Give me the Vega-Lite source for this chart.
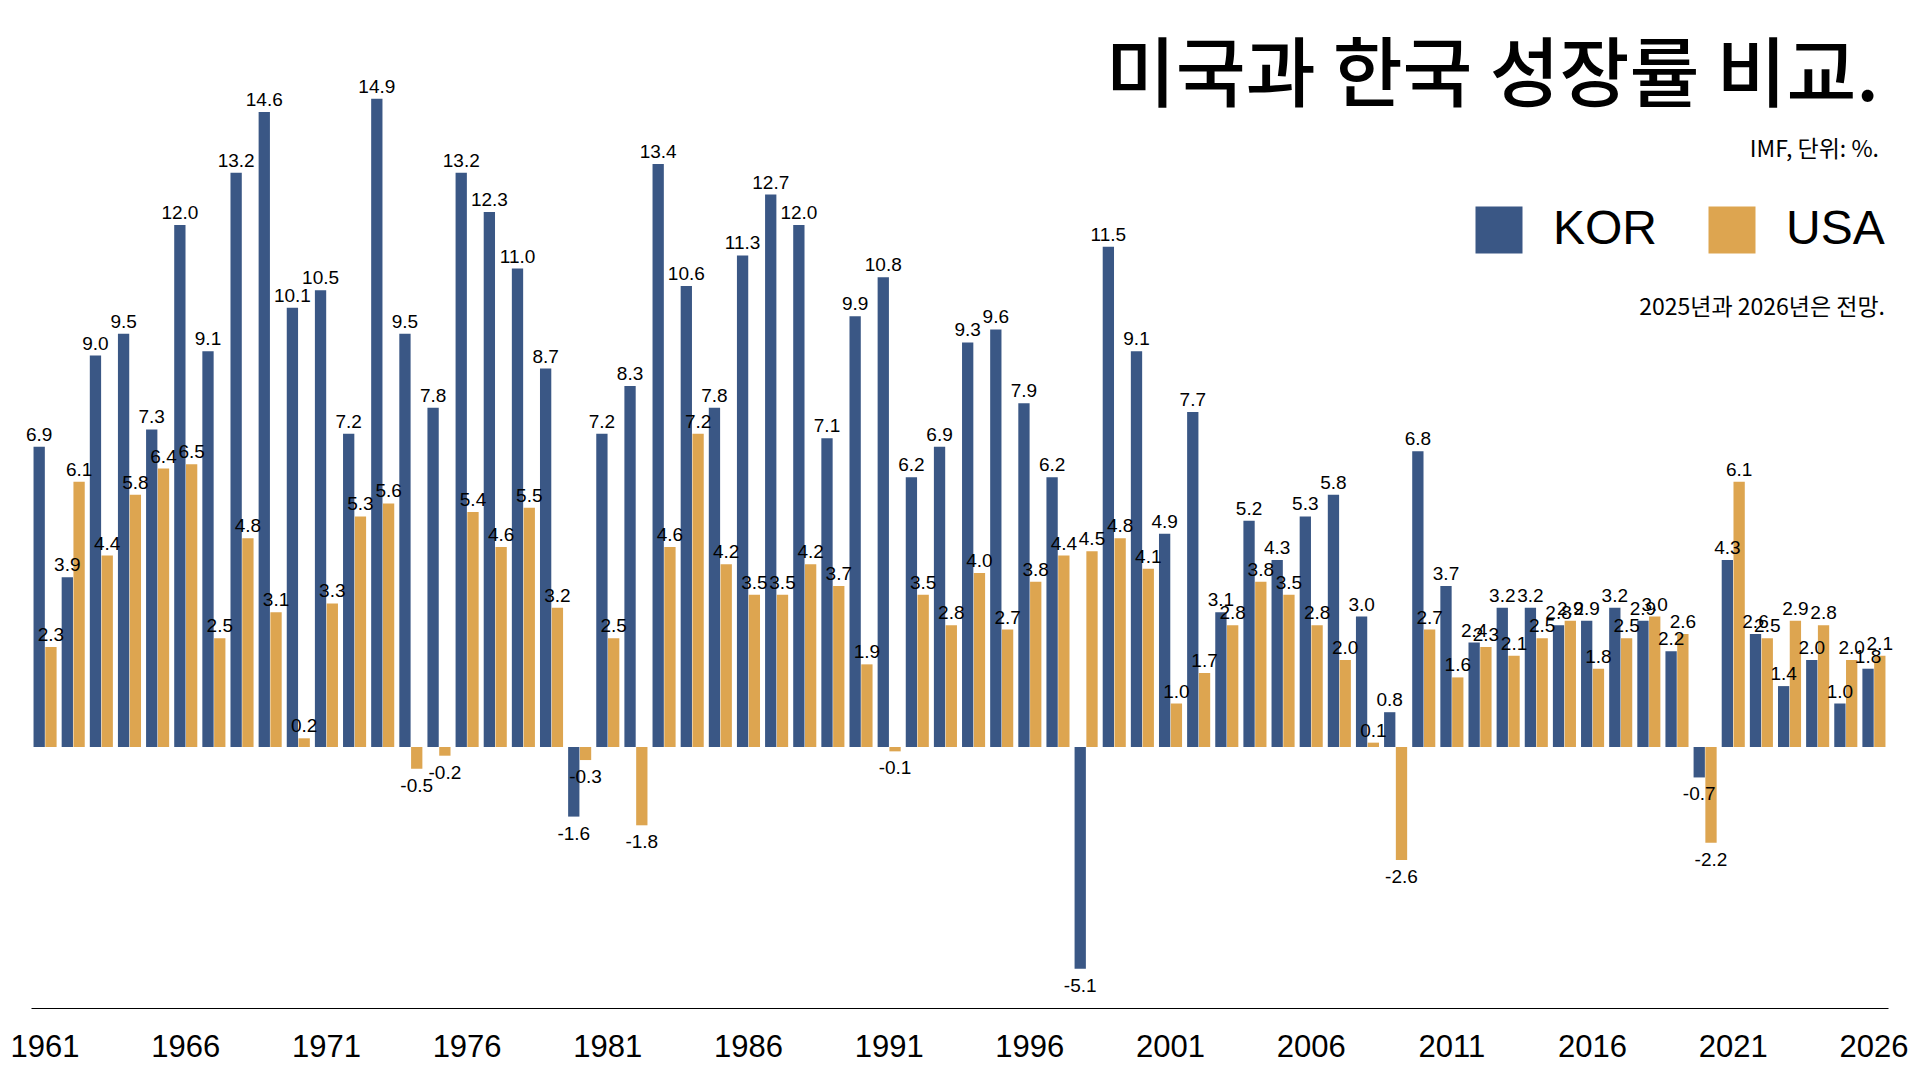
{
  "$schema": "https://vega.github.io/schema/vega-lite/v6.json",
  "description": "KOR vs USA real GDP growth, 1961-2026 (IMF)",
  "autosize": "none",
  "width": 1857,
  "height": 957,
  "padding": {"left": 31, "top": 51, "right": 32, "bottom": 72},
  "background": "white",
  "title": {
    "text": "미국과 한국 성장률 비교.",
    "subtitle": "IMF, 단위: %.",
    "anchor": "end",
    "frame": "group",
    "offset": -112,
    "dx": -9,
    "font": "Noto Sans CJK KR",
    "fontSize": 76,
    "fontWeight": 500,
    "color": "#000000",
    "subtitleFont": "Noto Sans CJK KR",
    "subtitleFontSize": 23,
    "subtitleColor": "#000000",
    "subtitlePadding": 22
  },
  "data": {
    "values": [
      {"year": 1961, "country": "KOR", "growth": 6.9}, {"year": 1961, "country": "USA", "growth": 2.3},
      {"year": 1962, "country": "KOR", "growth": 3.9}, {"year": 1962, "country": "USA", "growth": 6.1},
      {"year": 1963, "country": "KOR", "growth": 9.0}, {"year": 1963, "country": "USA", "growth": 4.4},
      {"year": 1964, "country": "KOR", "growth": 9.5}, {"year": 1964, "country": "USA", "growth": 5.8},
      {"year": 1965, "country": "KOR", "growth": 7.3}, {"year": 1965, "country": "USA", "growth": 6.4},
      {"year": 1966, "country": "KOR", "growth": 12.0}, {"year": 1966, "country": "USA", "growth": 6.5},
      {"year": 1967, "country": "KOR", "growth": 9.1}, {"year": 1967, "country": "USA", "growth": 2.5},
      {"year": 1968, "country": "KOR", "growth": 13.2}, {"year": 1968, "country": "USA", "growth": 4.8},
      {"year": 1969, "country": "KOR", "growth": 14.6}, {"year": 1969, "country": "USA", "growth": 3.1},
      {"year": 1970, "country": "KOR", "growth": 10.1}, {"year": 1970, "country": "USA", "growth": 0.2},
      {"year": 1971, "country": "KOR", "growth": 10.5}, {"year": 1971, "country": "USA", "growth": 3.3},
      {"year": 1972, "country": "KOR", "growth": 7.2}, {"year": 1972, "country": "USA", "growth": 5.3},
      {"year": 1973, "country": "KOR", "growth": 14.9}, {"year": 1973, "country": "USA", "growth": 5.6},
      {"year": 1974, "country": "KOR", "growth": 9.5}, {"year": 1974, "country": "USA", "growth": -0.5},
      {"year": 1975, "country": "KOR", "growth": 7.8}, {"year": 1975, "country": "USA", "growth": -0.2},
      {"year": 1976, "country": "KOR", "growth": 13.2}, {"year": 1976, "country": "USA", "growth": 5.4},
      {"year": 1977, "country": "KOR", "growth": 12.3}, {"year": 1977, "country": "USA", "growth": 4.6},
      {"year": 1978, "country": "KOR", "growth": 11.0}, {"year": 1978, "country": "USA", "growth": 5.5},
      {"year": 1979, "country": "KOR", "growth": 8.7}, {"year": 1979, "country": "USA", "growth": 3.2},
      {"year": 1980, "country": "KOR", "growth": -1.6}, {"year": 1980, "country": "USA", "growth": -0.3},
      {"year": 1981, "country": "KOR", "growth": 7.2}, {"year": 1981, "country": "USA", "growth": 2.5},
      {"year": 1982, "country": "KOR", "growth": 8.3}, {"year": 1982, "country": "USA", "growth": -1.8},
      {"year": 1983, "country": "KOR", "growth": 13.4}, {"year": 1983, "country": "USA", "growth": 4.6},
      {"year": 1984, "country": "KOR", "growth": 10.6}, {"year": 1984, "country": "USA", "growth": 7.2},
      {"year": 1985, "country": "KOR", "growth": 7.8}, {"year": 1985, "country": "USA", "growth": 4.2},
      {"year": 1986, "country": "KOR", "growth": 11.3}, {"year": 1986, "country": "USA", "growth": 3.5},
      {"year": 1987, "country": "KOR", "growth": 12.7}, {"year": 1987, "country": "USA", "growth": 3.5},
      {"year": 1988, "country": "KOR", "growth": 12.0}, {"year": 1988, "country": "USA", "growth": 4.2},
      {"year": 1989, "country": "KOR", "growth": 7.1}, {"year": 1989, "country": "USA", "growth": 3.7},
      {"year": 1990, "country": "KOR", "growth": 9.9}, {"year": 1990, "country": "USA", "growth": 1.9},
      {"year": 1991, "country": "KOR", "growth": 10.8}, {"year": 1991, "country": "USA", "growth": -0.1},
      {"year": 1992, "country": "KOR", "growth": 6.2}, {"year": 1992, "country": "USA", "growth": 3.5},
      {"year": 1993, "country": "KOR", "growth": 6.9}, {"year": 1993, "country": "USA", "growth": 2.8},
      {"year": 1994, "country": "KOR", "growth": 9.3}, {"year": 1994, "country": "USA", "growth": 4.0},
      {"year": 1995, "country": "KOR", "growth": 9.6}, {"year": 1995, "country": "USA", "growth": 2.7},
      {"year": 1996, "country": "KOR", "growth": 7.9}, {"year": 1996, "country": "USA", "growth": 3.8},
      {"year": 1997, "country": "KOR", "growth": 6.2}, {"year": 1997, "country": "USA", "growth": 4.4},
      {"year": 1998, "country": "KOR", "growth": -5.1}, {"year": 1998, "country": "USA", "growth": 4.5},
      {"year": 1999, "country": "KOR", "growth": 11.5}, {"year": 1999, "country": "USA", "growth": 4.8},
      {"year": 2000, "country": "KOR", "growth": 9.1}, {"year": 2000, "country": "USA", "growth": 4.1},
      {"year": 2001, "country": "KOR", "growth": 4.9}, {"year": 2001, "country": "USA", "growth": 1.0},
      {"year": 2002, "country": "KOR", "growth": 7.7}, {"year": 2002, "country": "USA", "growth": 1.7},
      {"year": 2003, "country": "KOR", "growth": 3.1}, {"year": 2003, "country": "USA", "growth": 2.8},
      {"year": 2004, "country": "KOR", "growth": 5.2}, {"year": 2004, "country": "USA", "growth": 3.8},
      {"year": 2005, "country": "KOR", "growth": 4.3}, {"year": 2005, "country": "USA", "growth": 3.5},
      {"year": 2006, "country": "KOR", "growth": 5.3}, {"year": 2006, "country": "USA", "growth": 2.8},
      {"year": 2007, "country": "KOR", "growth": 5.8}, {"year": 2007, "country": "USA", "growth": 2.0},
      {"year": 2008, "country": "KOR", "growth": 3.0}, {"year": 2008, "country": "USA", "growth": 0.1},
      {"year": 2009, "country": "KOR", "growth": 0.8}, {"year": 2009, "country": "USA", "growth": -2.6},
      {"year": 2010, "country": "KOR", "growth": 6.8}, {"year": 2010, "country": "USA", "growth": 2.7},
      {"year": 2011, "country": "KOR", "growth": 3.7}, {"year": 2011, "country": "USA", "growth": 1.6},
      {"year": 2012, "country": "KOR", "growth": 2.4}, {"year": 2012, "country": "USA", "growth": 2.3},
      {"year": 2013, "country": "KOR", "growth": 3.2}, {"year": 2013, "country": "USA", "growth": 2.1},
      {"year": 2014, "country": "KOR", "growth": 3.2}, {"year": 2014, "country": "USA", "growth": 2.5},
      {"year": 2015, "country": "KOR", "growth": 2.8}, {"year": 2015, "country": "USA", "growth": 2.9},
      {"year": 2016, "country": "KOR", "growth": 2.9}, {"year": 2016, "country": "USA", "growth": 1.8},
      {"year": 2017, "country": "KOR", "growth": 3.2}, {"year": 2017, "country": "USA", "growth": 2.5},
      {"year": 2018, "country": "KOR", "growth": 2.9}, {"year": 2018, "country": "USA", "growth": 3.0},
      {"year": 2019, "country": "KOR", "growth": 2.2}, {"year": 2019, "country": "USA", "growth": 2.6},
      {"year": 2020, "country": "KOR", "growth": -0.7}, {"year": 2020, "country": "USA", "growth": -2.2},
      {"year": 2021, "country": "KOR", "growth": 4.3}, {"year": 2021, "country": "USA", "growth": 6.1},
      {"year": 2022, "country": "KOR", "growth": 2.6}, {"year": 2022, "country": "USA", "growth": 2.5},
      {"year": 2023, "country": "KOR", "growth": 1.4}, {"year": 2023, "country": "USA", "growth": 2.9},
      {"year": 2024, "country": "KOR", "growth": 2.0}, {"year": 2024, "country": "USA", "growth": 2.8},
      {"year": 2025, "country": "KOR", "growth": 1.0}, {"year": 2025, "country": "USA", "growth": 2.0},
      {"year": 2026, "country": "KOR", "growth": 1.8}, {"year": 2026, "country": "USA", "growth": 2.1}
    ]
  },
  "encoding": {
    "x": {
      "field": "year",
      "type": "ordinal",
      "scale": {"paddingInner": 0.18, "paddingOuter": 0.09},
      "axis": {
        "title": null,
        "values": [1961, 1966, 1971, 1976, 1981, 1986, 1991, 1996, 2001, 2006, 2011, 2016, 2021, 2026],
        "labelAngle": 0,
        "labelFont": "Liberation Sans",
        "labelFontSize": 31,
        "labelColor": "#000000",
        "labelPadding": 24,
        "ticks": false,
        "tickSize": 0,
        "domainColor": "#000000",
        "domainWidth": 1,
        "grid": false
      }
    },
    "xOffset": {"field": "country", "type": "nominal", "scale": {"paddingInner": 0.04}},
    "y": {
      "field": "growth",
      "type": "quantitative",
      "scale": {"domain": [-6, 16], "nice": false, "zero": true},
      "axis": null
    }
  },
  "layer": [
    {
      "mark": {"type": "bar"},
      "encoding": {
        "color": {
          "field": "country",
          "type": "nominal",
          "scale": {"domain": ["KOR", "USA"], "range": ["#3a5785", "#dda550"]},
          "legend": {
            "orient": "none",
            "legendX": 1444,
            "legendY": 155,
            "direction": "horizontal",
            "symbolType": "square",
            "symbolSize": 2209,
            "symbolStrokeWidth": 0,
            "symbolOpacity": 1,
            "labelFont": "Liberation Sans",
            "labelFontSize": 48,
            "labelColor": "#000000",
            "labelOffset": 30,
            "columnPadding": 50,
            "title": "2025년과 2026년은 전망.",
            "titleOrient": "bottom",
            "titleAnchor": "end",
            "titleFont": "Noto Sans CJK KR",
            "titleFontSize": 23,
            "titleFontWeight": "normal",
            "titleColor": "#000000",
            "titlePadding": 43,
            "titleLimit": 600
          }
        }
      }
    },
    {
      "transform": [{"filter": "datum.growth >= 0"}],
      "mark": {"type": "text", "baseline": "alphabetic", "dy": -6, "font": "Liberation Sans", "fontSize": 19, "color": "#000000"},
      "encoding": {"text": {"field": "growth", "type": "quantitative", "format": ".1f"}}
    },
    {
      "transform": [{"filter": "datum.growth < 0"}],
      "mark": {"type": "text", "baseline": "top", "dy": 8, "font": "Liberation Sans", "fontSize": 19, "color": "#000000"},
      "encoding": {"text": {"field": "growth", "type": "quantitative", "format": ".1f"}}
    }
  ],
  "config": {
    "view": {"stroke": null},
    "locale": {
      "number": {"decimal": ".", "thousands": ",", "grouping": [3], "currency": ["", ""], "minus": "-"}
    }
  }
}
